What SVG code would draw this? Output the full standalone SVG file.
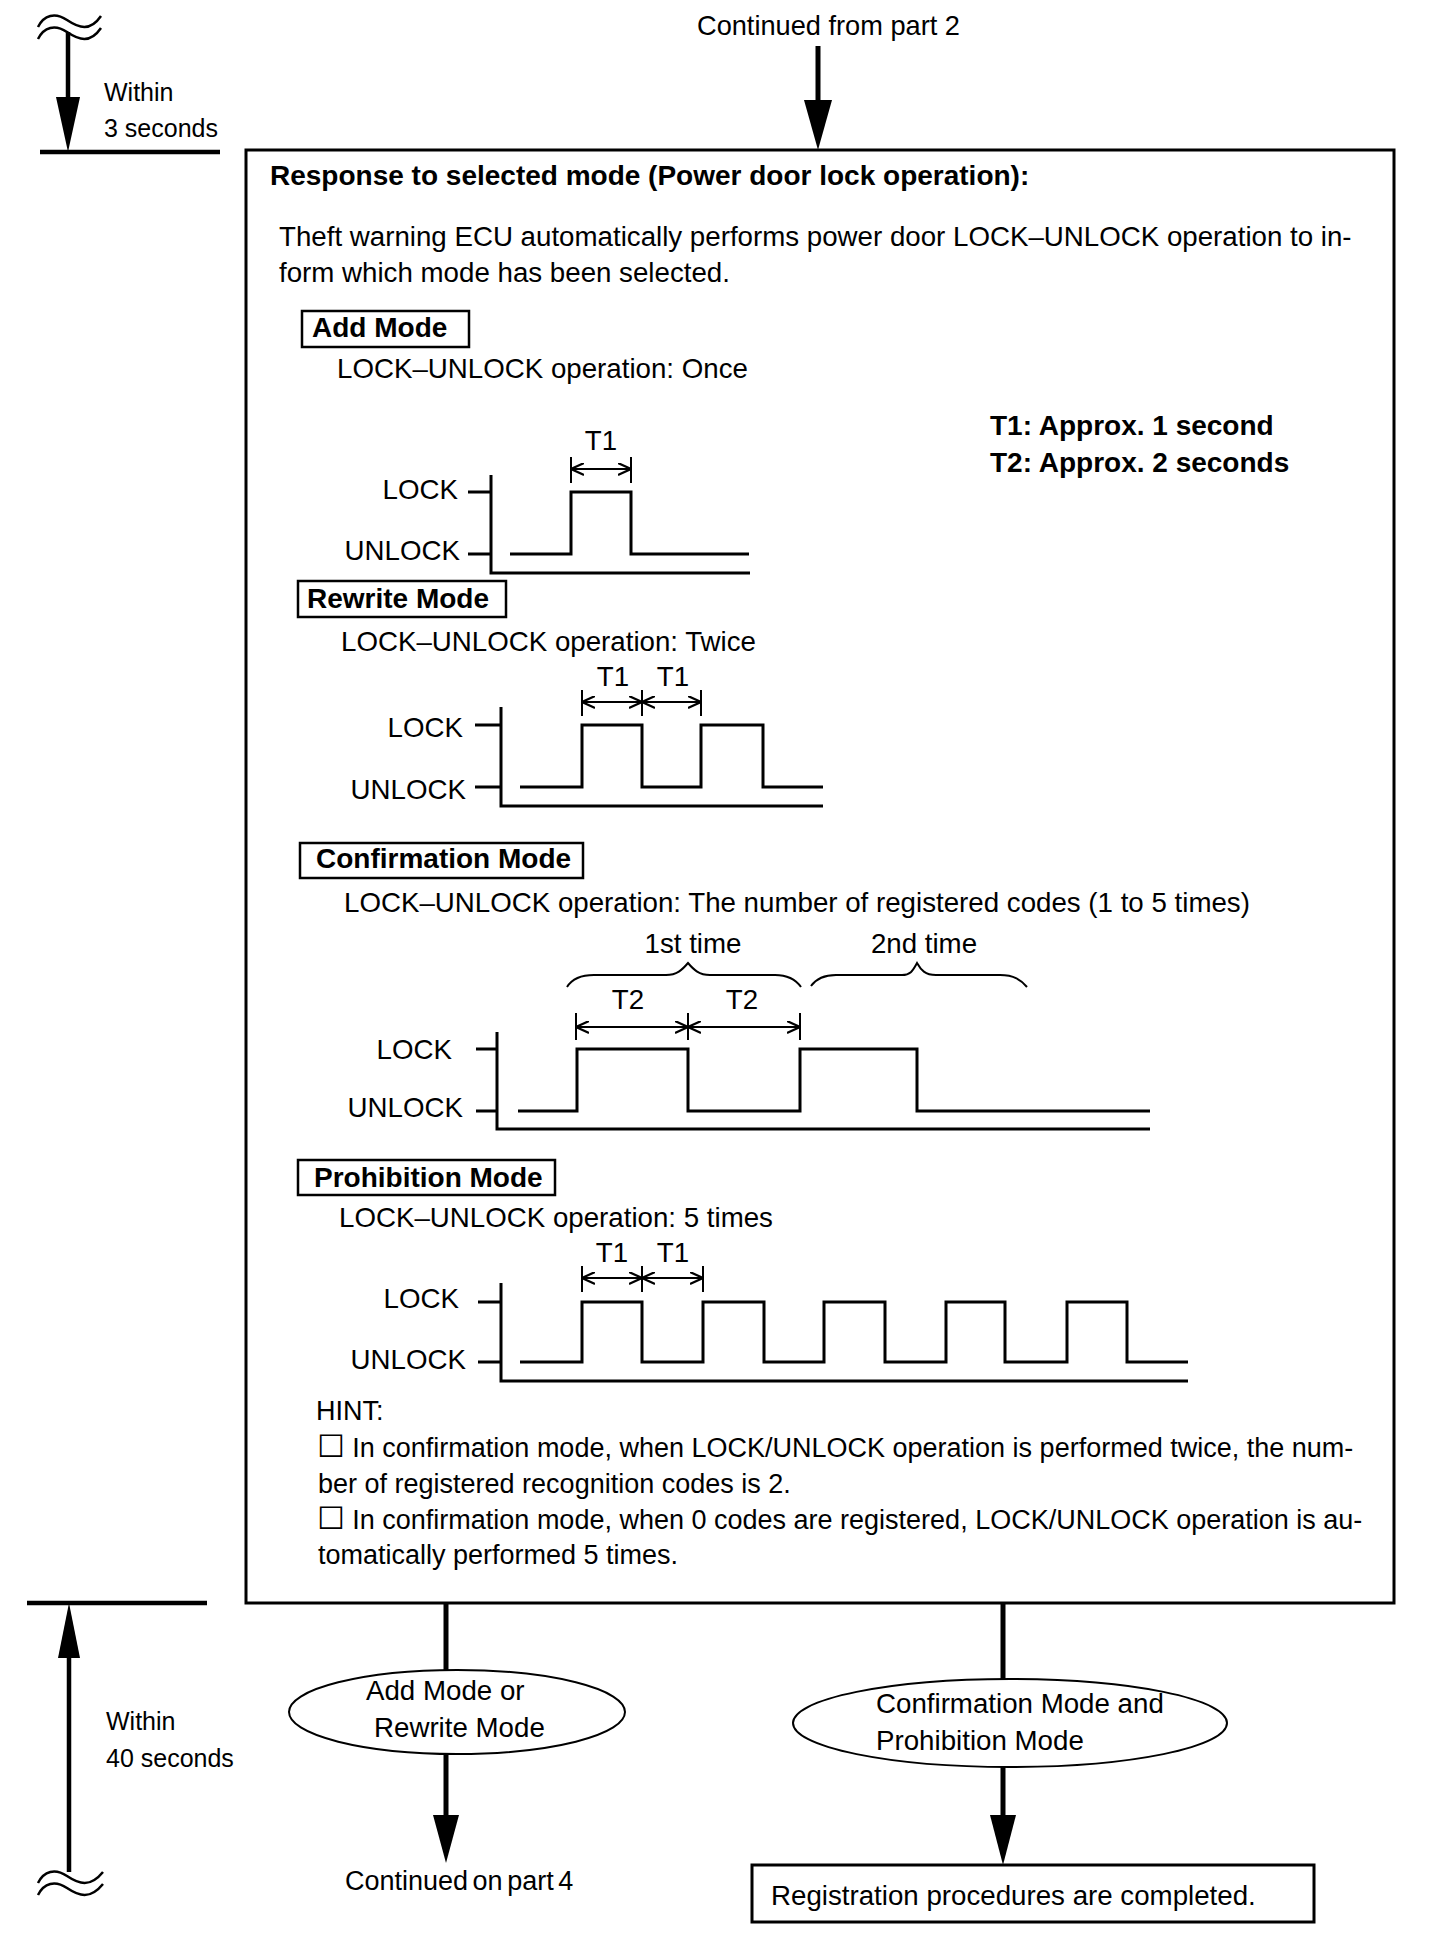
<svg xmlns="http://www.w3.org/2000/svg" width="1456" height="1942" viewBox="0 0 1456 1942">
<style>
text{font-family:"Liberation Sans",Arial,sans-serif;fill:#000}
.t{font-size:27.7px}
.c{font-size:27.2px}
.h{font-size:27px}
.s{font-size:25px}
.b{font-size:28px;font-weight:bold}
.cb{font-family:"DejaVu Sans",sans-serif;font-size:31px}
.box{fill:none;stroke:#000;stroke-width:3}
.lbl{fill:#fff;stroke:#000;stroke-width:2.5}
.wave{fill:none;stroke:#000;stroke-width:3}
.ax{fill:none;stroke:#000;stroke-width:3}
.tick{stroke:#000;stroke-width:2}
.dim{stroke:#000;stroke-width:2;marker-start:url(#open);marker-end:url(#open)}
.brace{fill:none;stroke:#000;stroke-width:2}
.flow{stroke:#000;stroke-width:5}
.tl{stroke:#000;stroke-width:4.5}
.zig{fill:none;stroke:#000;stroke-width:2.5}
.ell{fill:#fff;stroke:#000;stroke-width:2}
</style>
<defs>
<marker id="open" viewBox="0 0 13 13" refX="13" refY="6.5" markerWidth="13" markerHeight="13" markerUnits="userSpaceOnUse" orient="auto-start-reverse">
<path d="M0,0.5 L13,6.5 L0,12.5" fill="none" stroke="#000" stroke-width="2.2"/>
</marker>
</defs>

<g id="timeline-top">
<path class="zig" d="M38,27 C44,15 55,12 67,20 C79,28 90,32 101,16"/>
<path class="zig" d="M38,39 C44,27 55,24 67,32 C79,40 90,44 101,28"/>
<line class="tl" x1="68" y1="32" x2="68" y2="100"/>
<polygon points="56,97 80,97 68,152"/>
<line class="tl" x1="40" y1="152" x2="220" y2="152"/>
<text class="s" x="104" y="101">Within</text>
<text class="s" x="104" y="137">3 seconds</text>
</g>

<g id="continued-from">
<text class="c" x="697" y="35">Continued from part 2</text>
</g>

<g id="main-box">
<rect class="box" x="246" y="150" width="1148" height="1453"/>
<text class="b" x="270" y="185">Response to selected mode (Power door lock operation):</text>
<text class="t" x="279" y="246">Theft warning ECU automatically performs power door LOCK–UNLOCK operation to in-</text>
<text class="t" x="279" y="282">form which mode has been selected.</text>
<text class="b" x="990" y="435">T1: Approx. 1 second</text>
<text class="b" x="990" y="472">T2: Approx. 2 seconds</text>
</g>

<g id="add-mode">
<rect class="lbl" x="302" y="311" width="167" height="36"/>
<text class="b" x="312" y="337">Add Mode</text>
<text class="t" x="337" y="378">LOCK–UNLOCK operation: Once</text>
<text class="t" x="601" y="450" text-anchor="middle">T1</text>
<line class="tick" x1="571" y1="457" x2="571" y2="483"/>
<line class="tick" x1="631" y1="457" x2="631" y2="483"/>
<line class="dim" x1="571" y1="469" x2="631" y2="469"/>
<text class="t" x="458" y="499" text-anchor="end">LOCK</text>
<text class="t" x="460" y="560" text-anchor="end">UNLOCK</text>
<path class="ax" d="M468,492 H491 M468,554 H491 M491,475 V573 H750"/>
<path class="wave" d="M510,554 H571 V492 H631 V554 H749"/>
</g>

<g id="rewrite-mode">
<rect class="lbl" x="298" y="581" width="208" height="36"/>
<text class="b" x="307" y="608">Rewrite Mode</text>
<text class="t" x="341" y="651">LOCK–UNLOCK operation: Twice</text>
<text class="t" x="613" y="686" text-anchor="middle">T1</text>
<text class="t" x="673" y="686" text-anchor="middle">T1</text>
<line class="tick" x1="582" y1="690" x2="582" y2="716"/>
<line class="tick" x1="642" y1="690" x2="642" y2="716"/>
<line class="tick" x1="701" y1="690" x2="701" y2="716"/>
<line class="dim" x1="582" y1="702" x2="642" y2="702"/>
<line class="dim" x1="642" y1="702" x2="701" y2="702"/>
<text class="t" x="463" y="737" text-anchor="end">LOCK</text>
<text class="t" x="466" y="799" text-anchor="end">UNLOCK</text>
<path class="ax" d="M475,725 H501 M475,787 H501 M501,707 V806 H823"/>
<path class="wave" d="M520,787 H582 V725 H642 V787 H701 V725 H763 V787 H823"/>
</g>

<g id="confirmation-mode">
<rect class="lbl" x="300" y="843" width="283" height="35"/>
<text class="b" x="316" y="868">Confirmation Mode</text>
<text class="t" x="344" y="912">LOCK–UNLOCK operation: The number of registered codes (1 to 5 times)</text>
<text class="t" x="693" y="953" text-anchor="middle">1st time</text>
<text class="t" x="924" y="953" text-anchor="middle">2nd time</text>
<path class="brace" d="M567,987 C572,979 580,975 594,975 L666,975 C677,975 682,970 688,963 C694,970 699,975 710,975 L775,975 C789,975 796,980 801,987"/>
<path class="brace" d="M811,986 C816,979 823,975 836,975 L902,975 C911,975 913,970 917,963 C921,970 925,975 936,975 L1000,975 C1014,975 1021,980 1027,987"/>
<text class="t" x="628" y="1009" text-anchor="middle">T2</text>
<text class="t" x="742" y="1009" text-anchor="middle">T2</text>
<line class="tick" x1="576" y1="1013" x2="576" y2="1040"/>
<line class="tick" x1="688" y1="1013" x2="688" y2="1040"/>
<line class="tick" x1="800" y1="1013" x2="800" y2="1040"/>
<line class="dim" x1="576" y1="1027" x2="688" y2="1027"/>
<line class="dim" x1="688" y1="1027" x2="800" y2="1027"/>
<text class="t" x="452" y="1059" text-anchor="end">LOCK</text>
<text class="t" x="463" y="1117" text-anchor="end">UNLOCK</text>
<path class="ax" d="M476,1049 H497 M476,1111 H497 M497,1032 V1129 H1150"/>
<path class="wave" d="M518,1111 H577 V1049 H688 V1111 H800 V1049 H917 V1111 H1150"/>
</g>

<g id="prohibition-mode">
<rect class="lbl" x="298" y="1160" width="257" height="35"/>
<text class="b" x="314" y="1187">Prohibition Mode</text>
<text class="t" x="339" y="1227">LOCK–UNLOCK operation: 5 times</text>
<text class="t" x="612" y="1262" text-anchor="middle">T1</text>
<text class="t" x="673" y="1262" text-anchor="middle">T1</text>
<line class="tick" x1="582" y1="1266" x2="582" y2="1292"/>
<line class="tick" x1="642" y1="1266" x2="642" y2="1292"/>
<line class="tick" x1="703" y1="1266" x2="703" y2="1292"/>
<line class="dim" x1="582" y1="1278" x2="642" y2="1278"/>
<line class="dim" x1="642" y1="1278" x2="703" y2="1278"/>
<text class="t" x="459" y="1308" text-anchor="end">LOCK</text>
<text class="t" x="466" y="1369" text-anchor="end">UNLOCK</text>
<path class="ax" d="M478,1302 H501 M478,1362 H501 M501,1283 V1381 H1188"/>
<path class="wave" d="M520,1362 H582 V1302 H642 V1362 H703 V1302 H764 V1362 H824 V1302 H885 V1362 H946 V1302 H1005 V1362 H1067 V1302 H1127 V1362 H1188"/>
</g>

<g id="hint">
<text class="h" x="316" y="1420">HINT:</text>
<text class="h" x="317" y="1457"><tspan class="cb">☐</tspan> In confirmation mode, when LOCK/UNLOCK operation is performed twice, the num-</text>
<text class="h" x="318" y="1493">ber of registered recognition codes is 2.</text>
<text class="h" x="317" y="1529"><tspan class="cb">☐</tspan> In confirmation mode, when 0 codes are registered, LOCK/UNLOCK operation is au-</text>
<text class="h" x="318" y="1564">tomatically performed 5 times.</text>
</g>

<g id="timeline-bottom">
<line class="tl" x1="27" y1="1603" x2="207" y2="1603"/>
<polygon points="58,1658 80,1658 69,1603"/>
<line class="tl" x1="69" y1="1656" x2="69" y2="1872"/>
<path class="zig" d="M38,1883 C44,1871 55,1868 67,1876 C79,1884 90,1888 103,1872"/>
<path class="zig" d="M38,1895 C44,1883 55,1880 67,1888 C79,1896 90,1900 103,1884"/>
<text class="s" x="106" y="1730">Within</text>
<text class="s" x="106" y="1767">40 seconds</text>
</g>

<g id="connectors">
<line class="flow" x1="818" y1="46" x2="818" y2="102"/>
<polygon points="804,100 832,100 818,150"/>
<line class="flow" x1="446" y1="1603" x2="446" y2="1672"/>
<line class="flow" x1="446" y1="1752" x2="446" y2="1817"/>
<polygon points="433,1815 459,1815 446,1863"/>
<line class="flow" x1="1003" y1="1603" x2="1003" y2="1679"/>
<line class="flow" x1="1003" y1="1765" x2="1003" y2="1817"/>
<polygon points="990,1815 1016,1815 1003,1865"/>
</g>

<g id="mode-add-rewrite">
<ellipse class="ell" cx="457" cy="1712" rx="168" ry="42"/>
<text class="t" x="366" y="1700">Add Mode or</text>
<text class="t" x="374" y="1737">Rewrite Mode</text>
</g>

<g id="continued-on">
<text class="h" x="345" y="1890" word-spacing="-3">Continued on part 4</text>
</g>

<g id="mode-confirm-prohibit">
<ellipse class="ell" cx="1010" cy="1723" rx="217" ry="44"/>
<text class="t" x="876" y="1713">Confirmation Mode and</text>
<text class="t" x="876" y="1750">Prohibition Mode</text>
</g>

<g id="completed">
<rect class="box" x="752" y="1865" width="562" height="57" stroke-width="2.5"/>
<text class="t" x="771" y="1905">Registration procedures are completed.</text>
</g>
</svg>
